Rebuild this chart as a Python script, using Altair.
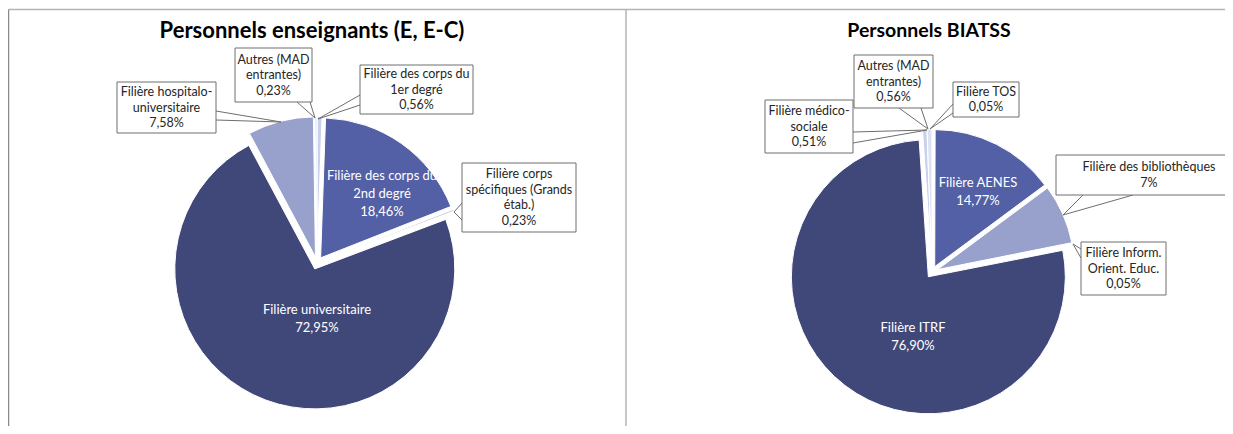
import math
import altair as alt
import pandas as pd

# ---------------- data ----------------
titles = ["Personnels enseignants (E, E-C)", "Personnels BIATSS"]

ens_cats = ["Filière des corps du\n1er degré",
            "Filière des corps du\n2nd degré",
            "Filière corps\nspécifiques (Grands\nétab.)",
            "Filière universitaire",
            "Filière hospitalo-\nuniversitaire",
            "Autres (MAD\nentrantes)"]
ens_vals = [0.56, 18.46, 0.23, 72.95, 7.58, 0.23]

bia_cats = ["Filière TOS",
            "Filière AENES",
            "Filière des bibliothèques",
            "Filière Inform.\nOrient. Educ.",
            "Filière ITRF",
            "Filière médico-\nsociale",
            "Autres (MAD\nentrantes)"]
bia_vals = [0.05, 14.77, 7, 0.05, 76.90, 0.51, 0.56]

# ---------------- styles / layout (page pixel coordinates) ----------------
OFF = 8  # page margin
ens_shade = ["pale", "mid", "pale", "dark", "light", "pale2"]
bia_shade = ["pale", "mid", "light", "pale", "dark", "pale", "pale2"]
shade_dom = ["dark", "mid", "light", "pale", "pale2"]
shade_rng = ["#40487A", "#5360A5", "#98A0CC", "#C9D0EC", "#DCE1F3"]

panel_geo = {  # centre x, centre y, radius, explosion
    "ens": (317, 263, 140, 6.3),
    "bia": (932, 272, 137, 6.0),
}
title_pos = [(312, 31), (929, 31)]
title_size = [22, 19.5]
BOX_LH = 15.5
IN_LH = 18

# label layout: ("in", cx, cy) or ("box", x1, y1, x2, y2, tipx, tipy, b1x, b1y, b2x, b2y, textx)
ens_lab = [
    ("box", 360, 65, 473, 114, 318, 119, 360, 95, 360, 105, None),
    ("in", 382, 194),
    ("box", 462, 163, 576, 232, 454, 212, 462, 203, 462, 220, None),
    ("in", 317, 319),
    ("box", 117, 82, 216, 133, 281, 122, 216, 111, 216, 120, None),
    ("box", 235, 48, 312, 102, 315, 118, 297, 102, 310, 102, None),
]
bia_lab = [
    ("box", 953, 82, 1019, 117, 930, 129, 953, 104, 953, 113, None),
    ("in", 978, 192),
    ("box", 1056, 155, 1242, 195, 1063, 215, 1083, 195, 1133, 195, 1149),
    ("box", 1081, 242, 1166, 295, 1073, 244, 1081, 249, 1081, 258, None),
    ("in", 913, 337),
    ("box", 765, 100, 853, 153, 927, 130, 853, 132, 853, 143, None),
    ("box", 854, 55, 933, 108, 928, 129, 899, 108, 921, 108, None),
]

rows = []
for panel, cats, vals, shades, labs in [("ens", ens_cats, ens_vals, ens_shade, ens_lab),
                                         ("bia", bia_cats, bia_vals, bia_shade, bia_lab)]:
    pcx, pcy, r, ex = panel_geo[panel]
    for i, (c, v, s, lab) in enumerate(zip(cats, vals, shades, labs)):
        row = dict(panel=panel, order=i, cat=c, value=v, shade=s,
                   pcx=pcx - OFF, pcy=pcy - OFF, r=r, ex=ex, kind=lab[0])
        if lab[0] == "in":
            row.update(lx=lab[1] - OFF, ly=lab[2] - OFF, lh=IN_LH)
        else:
            x1, y1, x2, y2, tx, ty, b1x, b1y, b2x, b2y, txt = lab[1:]
            row.update(bx1=x1 - OFF, by1=y1 - OFF, bx2=x2 - OFF, by2=y2 - OFF,
                       tx=tx - OFF, ty=ty - OFF, b1x=b1x - OFF, b1y=b1y - OFF,
                       b2x=b2x - OFF, b2y=b2y - OFF, lh=BOX_LH,
                       lx=((txt if txt else (x1 + x2) / 2)) - OFF, ly=(y1 + y2) / 2 - OFF)
        rows.append(row)
df = pd.DataFrame(rows)

FONT = "Lato"
pct_expr = ("(datum.value % 1 == 0 ? format(datum.value, 'd') : "
            "replace(format(datum.value, '.2f'), '.', ',')) + '%'")

base = (alt.Chart(df)
        .transform_joinaggregate(total="sum(value)", groupby=["panel"])
        .transform_window(cum="sum(value)", groupby=["panel"],
                          sort=[alt.SortField("order")], frame=[None, 0])
        .transform_calculate(
            t1="datum.cum / datum.total",
            t0="(datum.cum - datum.value) / datum.total",
            mid="PI * (datum.t0 + datum.t1)",
            cx="datum.pcx + datum.ex * sin(datum.mid)",
            cy="datum.pcy - datum.ex * cos(datum.mid)",
            label="datum.cat + '\\n' + " + pct_expr,
        )
        .transform_calculate(
            nlines="length(split(datum.label, '\\n'))",
        )
        .transform_calculate(
            ty0="datum.ly - (datum.nlines - 1) * datum.lh / 2",
        ))

arcs = base.mark_arc(stroke="white", strokeWidth=1).encode(
    x=alt.X("cx:Q", scale=None),
    y=alt.Y("cy:Q", scale=None),
    theta=alt.Theta("t0:Q", stack=None,
                    scale=alt.Scale(domain=[0, 1], range=[0, 2 * math.pi])),
    theta2="t1:Q",
    radius=alt.Radius("r:Q", scale=None),
    color=alt.Color("shade:N", scale=alt.Scale(domain=shade_dom, range=shade_rng), legend=None),
)

boxed = base.transform_filter("datum.kind == 'box'")
lead1 = boxed.mark_rule(color="#6e6e6e", strokeWidth=1).encode(
    x=alt.X("tx:Q", scale=None), y=alt.Y("ty:Q", scale=None),
    x2="b1x:Q", y2="b1y:Q")
lead2 = boxed.mark_rule(color="#6e6e6e", strokeWidth=1).encode(
    x=alt.X("tx:Q", scale=None), y=alt.Y("ty:Q", scale=None),
    x2="b2x:Q", y2="b2y:Q")
boxes = boxed.mark_rect(fill="white", stroke="#6e6e6e", strokeWidth=1).encode(
    x=alt.X("bx1:Q", scale=None), x2="bx2:Q",
    y=alt.Y("by1:Q", scale=None), y2="by2:Q")
box_text = boxed.mark_text(font=FONT, fontSize=12.5, lineHeight=BOX_LH, lineBreak="\n",
                           align="center", baseline="middle", color="#262626").encode(
    x=alt.X("lx:Q", scale=None), y=alt.Y("ty0:Q", scale=None), text="label:N")

inner_text = base.transform_filter("datum.kind == 'in'").mark_text(
    font=FONT, fontSize=13, lineHeight=IN_LH, lineBreak="\n",
    align="center", baseline="middle", color="white").encode(
    x=alt.X("lx:Q", scale=None), y=alt.Y("ty0:Q", scale=None), text="label:N")

tdf = pd.DataFrame({"t": titles,
                    "x": [p[0] - OFF for p in title_pos],
                    "y": [p[1] - OFF for p in title_pos],
                    "s": title_size})
title_text = alt.Chart(tdf).mark_text(font=FONT, fontWeight="bold",
                                      align="center", baseline="middle", color="black").encode(
    x=alt.X("x:Q", scale=None), y=alt.Y("y:Q", scale=None), text="t:N",
    size=alt.Size("s:Q", scale=None, legend=None))

fdf_light = pd.DataFrame({"x": [0.5, 618], "y": [1.5, 1.5], "x2": [1217, 618], "y2": [1.5, 426]})
fdf_dark = pd.DataFrame({"x": [0.5], "y": [1.5], "x2": [0.5], "y2": [426]})
frame_light = alt.Chart(fdf_light).mark_rule(strokeWidth=1.5, color="#b4b4b4").encode(
    x=alt.X("x:Q", scale=None), y=alt.Y("y:Q", scale=None), x2="x2:Q", y2="y2:Q")
frame_dark = alt.Chart(fdf_dark).mark_rule(strokeWidth=1.5, color="#8a8a8a").encode(
    x=alt.X("x:Q", scale=None), y=alt.Y("y:Q", scale=None), x2="x2:Q", y2="y2:Q")

chart = (alt.layer(frame_light, frame_dark, arcs, lead1, lead2, boxes, box_text, inner_text, title_text)
         .properties(width=1217, height=418, padding=0, autosize="none")
         .configure_view(stroke=None))

chart.save("out.html", embed_options={"renderer": "svg", "actions": False})
